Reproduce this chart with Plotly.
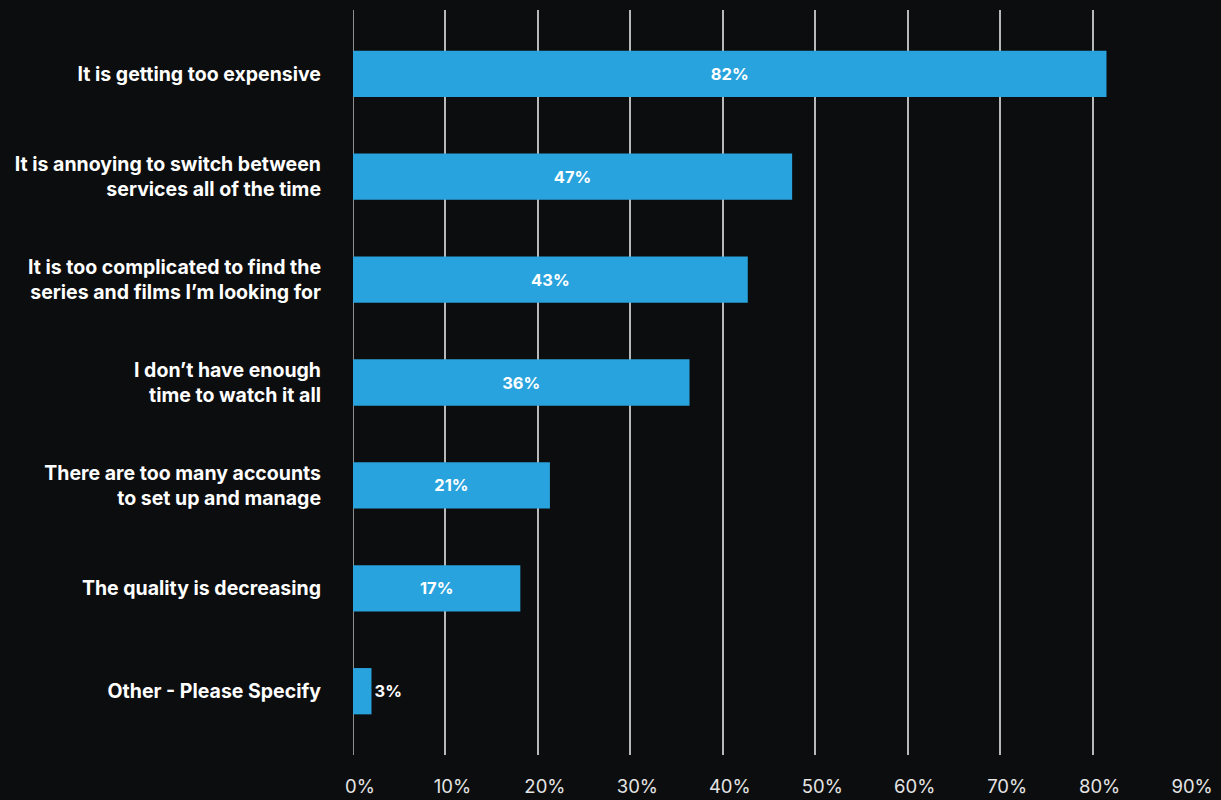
import plotly.graph_objects as go

categories = [
    "It is getting too expensive",
    "It is annoying to switch between<br>services all of the time",
    "It is too complicated to find the<br>series and films I’m looking for",
    "I don’t have enough<br>time to watch it all",
    "There are too many accounts<br>to set up and manage",
    "The quality is decreasing",
    "Other - Please Specify",
]
values = [81.5, 47.5, 42.7, 36.4, 21.3, 18.1, 2.0]
value_labels = ["82%", "47%", "43%", "36%", "21%", "17%", "3%"]
x_ticks = [0, 10, 20, 30, 40, 50, 60, 70, 80, 90]
x_tick_labels = ["0%", "10%", "20%", "30%", "40%", "50%", "60%", "70%", "80%", "90%"]

BAR = "#29a3dd"
BG = "#0c0d0e"
FONT = "Inter"

positions = ["inside" if v > 5 else "outside" for v in values]

fig = go.Figure(
    go.Bar(
        x=values,
        y=list(range(len(categories))),
        orientation="h",
        marker=dict(color=BAR, line=dict(width=0)),
        width=0.45,
        text=value_labels,
        textposition=positions,
        insidetextanchor="middle",
        textangle=0,
        textfont=dict(family=FONT, size=16.5, color="white", weight="bold"),
        cliponaxis=False,
        hoverinfo="skip",
    )
)

fig.update_layout(
    width=1221,
    height=800,
    paper_bgcolor=BG,
    plot_bgcolor=BG,
    margin=dict(l=353, r=35, t=10, b=45, autoexpand=False),
    showlegend=False,
    font=dict(family=FONT, color="white"),
)

fig.update_xaxes(
    range=[0, 90.1],
    tickvals=x_ticks,
    ticktext=x_tick_labels,
    showgrid=True,
    gridcolor="#b8b8b8",
    gridwidth=1.5,
    zeroline=False,
    showline=False,
    ticks="",
    tickfont=dict(family=FONT, size=18.5, color="#e4e4e4"),
    ticklabelstandoff=18,
    ticklabelshift=7,
    automargin=False,
    fixedrange=True,
)

fig.update_yaxes(
    range=[6.62, -0.62],
    tickvals=list(range(len(categories))),
    ticktext=categories,
    showgrid=False,
    zeroline=False,
    showline=False,
    ticks="",
    tickfont=dict(family=FONT, size=19.5, color="white", weight="bold"),
    ticklabelstandoff=31,
    automargin=False,
    fixedrange=True,
)

fig.add_shape(
    type="line", xref="x", yref="paper", x0=0, x1=0, y0=0, y1=1,
    line=dict(color="#b8b8b8", width=1.5), layer="below",
)

fig.write_html(
    "out.html",
    config={"displayModeBar": False},
    post_script="document.body.style.margin='0';document.body.style.background='%s';document.body.style.overflow='hidden';" % BG,
)
